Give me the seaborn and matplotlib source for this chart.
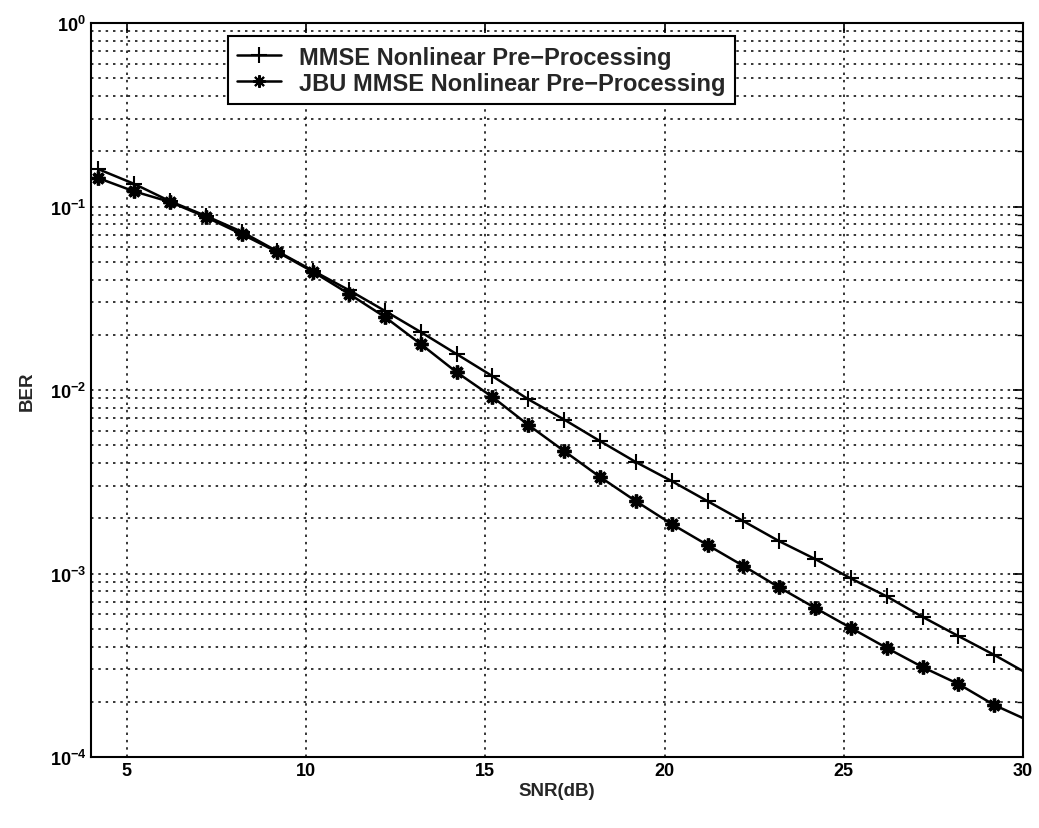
import numpy as np
import pandas as pd
import matplotlib
matplotlib.use("Agg")
import matplotlib.pyplot as plt
import seaborn as sns
from matplotlib.ticker import LogLocator, FixedLocator, NullFormatter

# SNR sample points (dB); the final point sits on the right axis limit
snr = [4.2, 5.2, 6.2, 7.2, 8.2, 9.2, 10.2, 11.2, 12.2, 13.2, 14.2, 15.2, 16.2,
       17.2, 18.2, 19.2, 20.2, 21.2, 22.2, 23.2, 24.2, 25.2, 26.2, 27.2, 28.2,
       29.2, 30.0]

ber_mmse = [0.160, 0.133, 0.107, 0.089, 0.073, 0.057, 0.0446, 0.035, 0.027,
            0.0207, 0.0157, 0.0119, 0.0089, 0.0069, 0.00527, 0.00405, 0.00319,
            0.00248, 0.00193, 0.00150, 0.00120, 0.00094, 0.00075, 0.00058,
            0.000456, 0.00036, 0.000294]

ber_jbu = [0.143, 0.121, 0.106, 0.0877, 0.0708, 0.0565, 0.044, 0.0334, 0.025,
           0.0178, 0.0125, 0.00916, 0.00645, 0.00465, 0.00336, 0.00248,
           0.00186, 0.00143, 0.0011, 0.00084, 0.00065, 0.000505, 0.000393,
           0.000309, 0.00025, 0.000192, 0.000163]

series_names = ["MMSE Nonlinear Pre-Processing",
                "JBU MMSE Nonlinear Pre-Processing"]

df = pd.DataFrame({
    "SNR": snr + snr,
    "BER": ber_mmse + ber_jbu,
    "series": [series_names[0]] * len(snr) + [series_names[1]] * len(snr),
})

sns.set_theme(style="white")
plt.rcParams["font.family"] = ["Liberation Sans", "DejaVu Sans"]
plt.rcParams["font.weight"] = "bold"
plt.rcParams["mathtext.default"] = "regular"

fig = plt.figure(figsize=(10.39, 8.29), dpi=100)
ax = fig.add_axes([0.0876, 0.0856, 0.8970, 0.8854])

sns.lineplot(
    data=df, x="SNR", y="BER", hue="series", style="series",
    palette=["black", "black"],
    markers={series_names[0]: "+", series_names[1]: (8, 2, 0)},
    dashes=False, linewidth=1.8, markersize=12, markeredgewidth=1.5,
    markeredgecolor="black", markevery=slice(0, 26), ax=ax, legend=True,
)

# thicker, more compact asterisks for the second series
ax.lines[1].set_markersize(10)
ax.lines[1].set_markeredgewidth(2.4)

ax.set_yscale("log")
ax.set_xlim(4, 30)
ax.set_ylim(1e-4, 1)

ax.xaxis.set_major_locator(FixedLocator([5, 10, 15, 20, 25, 30]))
ax.yaxis.set_major_locator(LogLocator(base=10, numticks=10))
ax.yaxis.set_minor_locator(LogLocator(base=10, subs=np.arange(2, 10), numticks=20))
ax.yaxis.set_minor_formatter(NullFormatter())

dot = (0, (1.6, 3.2))
ax.grid(True, which="major", axis="both", color="black", linestyle=dot, linewidth=1.1)
ax.grid(True, which="minor", axis="y", color="black", linestyle=dot, linewidth=1.1)

ax.tick_params(axis="both", which="both", direction="in", top=True, right=True,
               labelsize=13, colors="black")
ax.tick_params(axis="both", which="major", length=7, width=1.2)
ax.tick_params(axis="y", which="minor", length=4, width=1.0)
for lbl in ax.get_xticklabels() + ax.get_yticklabels():
    lbl.set_fontweight("bold")

for sp in ax.spines.values():
    sp.set_color("black")
    sp.set_linewidth(1.5)

ax.set_xlabel("SNR(dB)", fontsize=13.5, fontweight="bold", labelpad=2)
ax.set_ylabel("BER", fontsize=13.5, fontweight="bold", labelpad=10)

handles, labels = ax.get_legend_handles_labels()
for h in handles:
    h.set_markersize(11)
handles[1].set_markersize(9)
leg = ax.legend(handles, [l.replace("-", "\u2212") for l in labels],
                loc="upper left", bbox_to_anchor=(0.147, 0.982),
                frameon=True, fancybox=False, edgecolor="black",
                prop={"size": 17, "weight": "bold"}, handlelength=1.85,
                borderpad=0.4, labelspacing=0.12, handletextpad=0.75,
                borderaxespad=0)
leg.get_frame().set_linewidth(1.5)
leg.get_frame().set_alpha(1)

fig.savefig("out.png", dpi=100, facecolor="white")
